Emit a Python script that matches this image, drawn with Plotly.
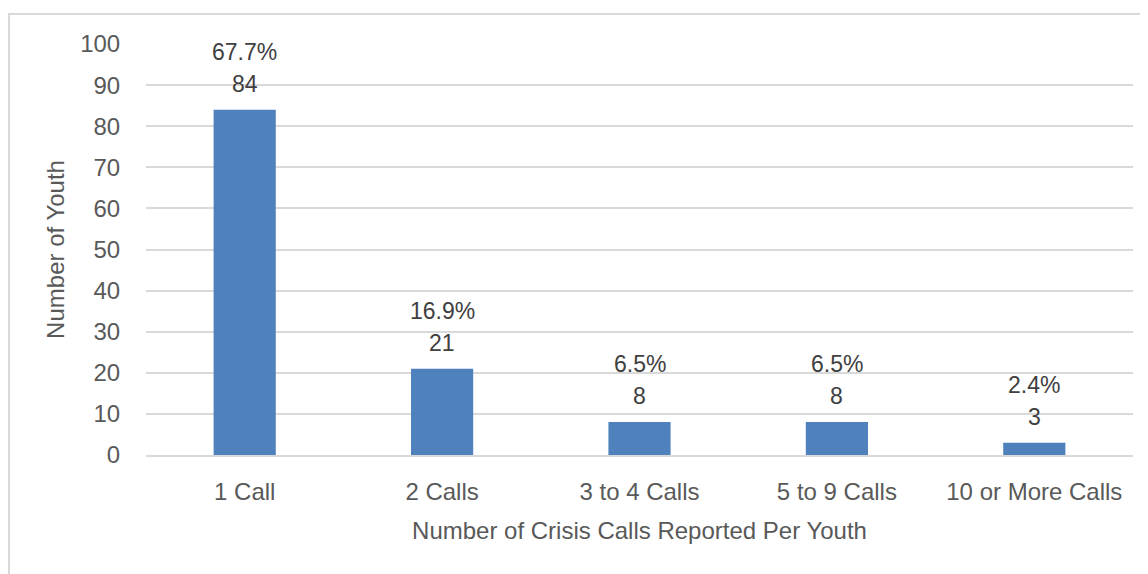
import plotly.graph_objects as go

categories = ["1 Call", "2 Calls", "3 to 4 Calls", "5 to 9 Calls", "10 or More Calls"]
counts = [84, 21, 8, 8, 3]
percents = ["67.7%", "16.9%", "6.5%", "6.5%", "2.4%"]
y_ticks = [0, 10, 20, 30, 40, 50, 60, 70, 80, 90, 100]

FONT = "Liberation Sans"
TXT = "#595959"
fig = go.Figure()
fig.add_trace(go.Bar(
    x=categories, y=counts, marker_color="#4F81BD",
    marker_line_width=0, width=0.315, hoverinfo="x+y",
))

for c, v, p in zip(categories, counts, percents):
    fig.add_annotation(x=c, y=v, text=str(v), showarrow=False, yanchor="middle",
                       yshift=26, font=dict(family=FONT, size=23, color="#404040"))
    fig.add_annotation(x=c, y=v, text=p, showarrow=False, yanchor="middle",
                       yshift=58, font=dict(family=FONT, size=23, color="#404040"))

# chart border (page has 8px body margin; plot area is 138..1125 x 36..447 in figure px)
PL, PR, PT, PB = 138, 1125, 36, 447
W, H = PR - PL, PB - PT
fig.add_shape(type="rect", xref="paper", yref="paper",
              x0=(1 - PL) / W, x1=(1139 - PL) / W,
              y0=(PB - 600) / H, y1=(PB - 6) / H,
              line=dict(color="#D9D9D9", width=2), layer="below")

fig.update_layout(
    width=1148, height=574,
    margin=dict(l=PL, r=1148 - PR, t=PT, b=574 - PB),
    paper_bgcolor="white", plot_bgcolor="white",
    showlegend=False, bargap=0.685,
    font=dict(family=FONT, size=24, color=TXT),
    xaxis=dict(
        showgrid=False, showline=True, linecolor="#D9D9D9", linewidth=2,
        ticks="outside", ticklen=14, tickcolor="rgba(0,0,0,0)",
        tickfont=dict(family=FONT, size=24, color=TXT),
        title=dict(text="Number of Crisis Calls Reported Per Youth", standoff=18,
                   font=dict(family=FONT, size=24, color=TXT)),
    ),
    yaxis=dict(
        range=[0, 100], tickvals=y_ticks, showgrid=True, gridcolor="#D9D9D9",
        gridwidth=1.5, zeroline=False,
        ticks="outside", ticklen=20, tickcolor="rgba(0,0,0,0)",
        tickfont=dict(family=FONT, size=24, color=TXT),
        title=dict(text="Number of Youth", standoff=8,
                   font=dict(family=FONT, size=24, color=TXT)),
    ),
)

fig.write_html("out.html")
